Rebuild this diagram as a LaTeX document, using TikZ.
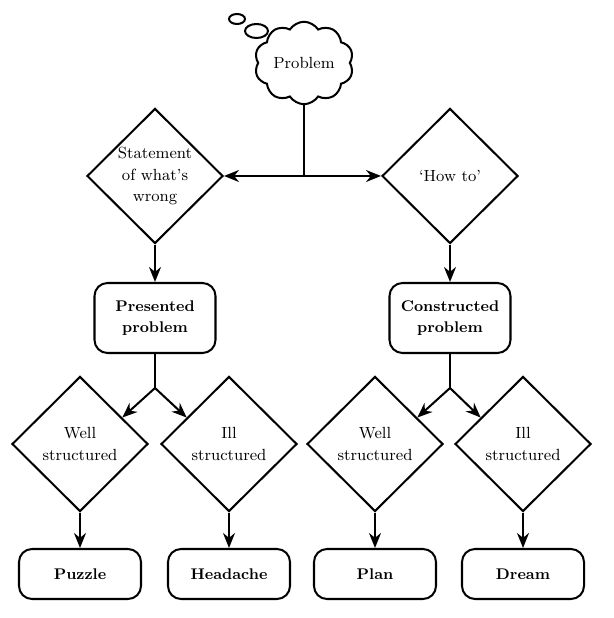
\documentclass[tikz,border=0pt]{standalone}
\usepackage{tikz}
\usetikzlibrary{positioning,arrows.meta,shapes.geometric,shapes.symbols}

\begin{document}
\begin{tikzpicture}[font=\fontsize{9.2}{12}\selectfont, line width=1.15pt, >={Stealth[length=3mm,width=2.4mm]},
  losango/.style={diamond, draw, aspect=1, inner sep=0pt, minimum width=2.72cm, minimum height=2.70cm, align=center},
  caixa/.style={draw, rounded corners=2.6mm, align=center, font=\fontsize{8.8}{12}\selectfont\bfseries, minimum width=2.42cm, minimum height=1.4cm},
  fim/.style={caixa, minimum width=2.44cm, minimum height=1cm}]
\useasboundingbox (0,0) rectangle (12.26,12.36);
% nuvem do topo
\node[cloud, draw, cloud puffs=10, cloud puff arc=115, aspect=1.3, minimum width=1.98cm, minimum height=1.5cm, inner sep=1pt] (prob) at (6.08,11.10) {Problem};
\draw (4.74,11.98) ellipse (0.16 and 0.10);
\draw (5.13,11.74) ellipse (0.23 and 0.14);
% primeiro nivel
\node[losango] (sw) at (3.10,8.84) {Statement\\of what’s\\wrong};
\node[losango] (ht) at (9.00,8.84) {‘How to’};
\node[caixa] (pp) at (3.10,6.00) {Presented\\problem};
\node[caixa] (cp) at (9.00,6.00) {Constructed\\problem};
% segundo nivel
\node[losango] (w1) at (1.60,3.48)  {Well\\structured};
\node[losango] (i1) at (4.58,3.48)  {Ill\\structured};
\node[losango] (w2) at (7.50,3.48)  {Well\\structured};
\node[losango] (i2) at (10.46,3.48) {Ill\\structured};
\node[fim] (pz) at (1.60,0.88)  {Puzzle};
\node[fim] (hd) at (4.58,0.88)  {Headache};
\node[fim] (pl) at (7.50,0.88)  {Plan};
\node[fim] (dr) at (10.46,0.88) {Dream};
% ligacoes
\coordinate (hub) at (prob.south |- sw);
\coordinate[below=0.68cm of pp.south] (f1);
\coordinate[below=0.68cm of cp.south] (f2);
\draw (prob.south) -- (hub);
\draw[->] (hub) -- (sw.east);
\draw[->] (hub) -- (ht.west);
\draw[->] (sw) -- (pp);
\draw[->] (ht) -- (cp);
\draw (pp.south) -- (f1);
\draw (cp.south) -- (f2);
\draw[->] (f1) -- (w1.32);
\draw[->] (f1) -- (i1.148);
\draw[->] (f2) -- (w2.32);
\draw[->] (f2) -- (i2.148);
\draw[->] (w1) -- (pz);
\draw[->] (i1) -- (hd);
\draw[->] (w2) -- (pl);
\draw[->] (i2) -- (dr);
\end{tikzpicture}
\end{document}
